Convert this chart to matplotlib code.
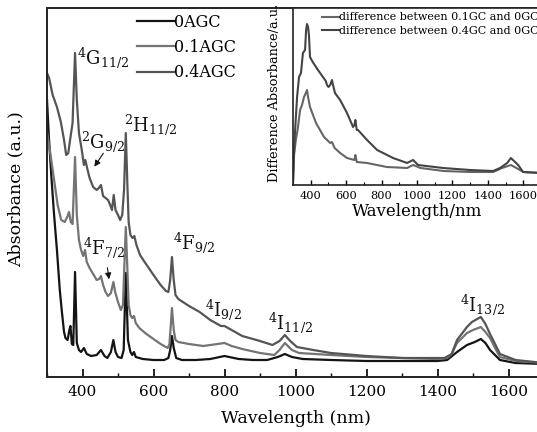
import numpy as np
import matplotlib
matplotlib.use("Agg")
import matplotlib.pyplot as plt
from matplotlib.ticker import MultipleLocator

plt.rcParams['font.family'] = ['DejaVu Serif']
plt.rcParams['mathtext.fontset'] = 'dejavuserif'

# ---------------- main data (a.u.) ----------------
wl_0 = [300, 305, 312, 320, 328, 336, 342, 348, 352, 358, 363, 366, 370, 374, 379, 384, 390, 396,
        404, 412, 424, 440, 452, 462, 470, 480, 487, 493, 500, 510, 516, 522, 528, 535, 540, 545,
        550, 570, 600, 630, 642, 647, 652, 657, 664, 680, 720, 760, 800, 840, 880, 920, 950, 970,
        990, 1020, 1100, 1200, 1300, 1400, 1427, 1455, 1483, 1505, 1522, 1535, 1548, 1576, 1620, 1700]
abs_0 = [277, 242, 202, 162, 127, 87, 65, 45, 39, 37, 47, 51, 33, 32, 105, 34, 27, 25,
         29, 23, 21, 22, 27, 21, 19, 25, 37, 25, 20, 19, 27, 104, 37, 25, 22, 25,
         20, 18, 17, 17, 19, 27, 41, 29, 19, 17, 17, 18, 21, 18, 17, 17, 20, 23,
         20, 18, 17, 16, 16, 16, 17, 25, 32, 35, 38, 34, 27, 17, 14, 13]

wl_01 = [300, 310, 320, 330, 340, 350, 358, 362, 367, 372, 379, 384, 390, 396, 402, 407, 412, 420,
         430, 440, 447, 452, 458, 465, 472, 480, 487, 492, 500, 508, 514, 518, 522, 526, 530, 535,
         540, 545, 550, 560, 580, 600, 620, 640, 645, 652, 657, 662, 670, 700, 740, 780, 800, 820,
         850, 900, 940, 955, 970, 990, 1010, 1100, 1200, 1300, 1400, 1427, 1440, 1455, 1483, 1500,
         1522, 1535, 1548, 1565, 1576, 1620, 1700]
abs_01 = [245, 222, 197, 172, 157, 155, 161, 165, 155, 153, 220, 162, 137, 127, 121, 127, 115, 109,
          103, 97, 98, 101, 92, 85, 81, 84, 95, 85, 75, 67, 72, 112, 150, 112, 72, 62,
          59, 61, 54, 49, 43, 38, 33, 29, 33, 69, 47, 37, 35, 33, 31, 33, 34, 31,
          28, 24, 22, 27, 34, 27, 24, 22, 20, 19, 18, 19, 23, 34, 44, 47,
          50, 45, 39, 27, 20, 16, 14]

wl_04 = [300, 306, 310, 316, 328, 339, 348, 354, 360, 365, 372, 379, 384, 390, 398, 404, 408, 413,
         420, 430, 440, 446, 452, 458, 465, 472, 478, 483, 488, 493, 500, 506, 512, 517, 522, 526,
         530, 535, 541, 546, 552, 562, 575, 600, 620, 635, 642, 647, 652, 657, 662, 670, 700, 730,
         760, 790, 800, 820, 850, 900, 935, 955, 970, 985, 1004, 1050, 1100, 1200, 1300, 1420, 1440,
         1455, 1483, 1497, 1522, 1535, 1548, 1565, 1576, 1620, 1700]
abs_04 = [304, 299, 292, 282, 270, 255, 237, 222, 224, 237, 254, 324, 277, 244, 227, 212, 217, 209,
          199, 190, 187, 189, 192, 181, 179, 177, 172, 167, 182, 167, 162, 157, 162, 187, 244, 197,
          155, 142, 139, 141, 132, 122, 115, 102, 92, 86, 85, 97, 120, 97, 82, 78, 71, 65,
          57, 51, 51, 47, 41, 36, 32, 36, 42, 36, 30, 27, 24, 21, 19, 19, 23,
          37, 50, 55, 60, 53, 43, 31, 23, 17, 14]

series_labels = ['0AGC', '0.1AGC', '0.4AGC']
series_colors = ['#141414', '#747474', '#555555']

# ---------------- inset data ----------------
wl_d04 = [300, 305, 311, 323, 334, 345, 356, 368, 374, 379, 385, 390, 396, 405, 415, 441, 469, 485,
          492, 500, 510, 520, 526, 537, 566, 605, 639, 647, 652, 660, 667, 718, 775, 865, 944, 978,
          1006, 1147, 1300, 1430, 1469, 1509, 1530, 1571, 1599, 1700]
diff_04 = [2, 30, 52, 88, 108, 112, 132, 135, 155, 161, 158, 150, 128, 125, 122, 115, 108, 104,
           100, 98, 100, 105, 100, 92, 85, 72, 58, 60, 65, 55, 55, 45, 35, 27, 22, 25,
           20, 17, 15, 14, 17, 22, 27, 20, 13, 12]
wl_d01 = [300, 306, 316, 326, 340, 351, 362, 375, 379, 385, 396, 430, 475, 510, 520, 535, 566, 605,
          647, 652, 660, 718, 830, 944, 978, 1020, 1150, 1300, 1430, 1480, 1530, 1571, 1600, 1700]
diff_01 = [2, 30, 45, 55, 75, 80, 88, 93, 95, 88, 78, 62, 48, 42, 43, 37, 32, 27,
           25, 30, 23, 22, 18, 17, 20, 17, 14, 13, 13, 17, 20, 16, 13, 12]
inset_labels = ['difference between 0.1GC and 0GC', 'difference between 0.4GC and 0GC']
inset_colors = ['#666666', '#444444']

# ---------------- figure ----------------
W, H = 537, 432
fig = plt.figure(figsize=(W / 100, H / 100), dpi=100)

def px_axes(l, t, r, b):
    return [l / W, 1 - b / H, (r - l) / W, (b - t) / H]

ax = fig.add_axes(px_axes(47, 8, 544, 377))
handles = []
for wl, ab, lab, col in zip([wl_0, wl_01, wl_04], [abs_0, abs_01, abs_04], series_labels, series_colors):
    h, = ax.plot(wl, ab, color=col, lw=1.6, label=lab)
    handles.append(h)

ax.set_xlim(300, 1700)
ax.set_ylim(0, 369)
ax.set_yticks([])
ax.xaxis.set_major_locator(MultipleLocator(200))
ax.xaxis.set_minor_locator(MultipleLocator(100))
ax.tick_params(axis='x', which='major', direction='in', length=5.5, width=1.2, labelsize=11, pad=6)
ax.tick_params(axis='x', which='minor', direction='in', length=2.8, width=1.0)
ax.set_xticks([400, 600, 800, 1000, 1200, 1400, 1600])
for s in ax.spines.values():
    s.set_linewidth(1.4)
    s.set_color('#222222')
ax.set_xlabel('Wavelength (nm)', fontsize=12.5, labelpad=8)
ax.set_ylabel('Absorbance (a.u.)', fontsize=12.5)
ax.yaxis.set_label_coords(-0.046, 0.51)

leg = ax.legend(handles=handles, loc='upper left', bbox_to_anchor=(0.181, 0.985), frameon=False,
                fontsize=11.5, handlelength=2.3, handletextpad=0.0, labelspacing=0.52,
                borderpad=0, borderaxespad=0)

ann = dict(fontsize=13, ha='left', va='center', color='#111111')
ax.text(384, 319, r'$^{4}\mathrm{G}_{11/2}$', **ann)
ax.text(517, 252, r'$^{2}\mathrm{H}_{11/2}$', **ann)
ax.text(396, 235, r'$^{2}\mathrm{G}_{9/2}$', **ann)
ax.text(401, 129, r'$^{4}\mathrm{F}_{7/2}$', **ann)
ax.text(655, 134, r'$^{4}\mathrm{F}_{9/2}$', **ann)
ax.text(745, 67, r'$^{4}\mathrm{I}_{9/2}$', **ann)
ax.text(922, 54, r'$^{4}\mathrm{I}_{11/2}$', **ann)
ax.text(1463, 72, r'$^{4}\mathrm{I}_{13/2}$', **ann)
ax.annotate('', xy=(429, 208), xytext=(463, 226),
            arrowprops=dict(arrowstyle='-|>', color='#111111', lw=0.8, mutation_scale=9))
ax.annotate('', xy=(476, 95), xytext=(469, 112),
            arrowprops=dict(arrowstyle='-|>', color='#111111', lw=0.8, mutation_scale=9))

# ---------------- inset ----------------
ins = fig.add_axes(px_axes(293, 8, 541, 185))
ih = []
for wl, d, lab, col in zip([wl_d01, wl_d04], [diff_01, diff_04], inset_labels, inset_colors):
    h, = ins.plot(wl, d, color=col, lw=1.5, label=lab)
    ih.append(h)
ins.set_xlim(300, 1700)
ins.set_ylim(0, 177)
ins.set_yticks([])
ins.set_xticks([400, 600, 800, 1000, 1200, 1400, 1600])
ins.xaxis.set_minor_locator(MultipleLocator(100))
ins.tick_params(axis='x', which='major', direction='in', length=3.5, width=1.0, labelsize=8.2, pad=4)
ins.tick_params(axis='x', which='minor', direction='in', length=2, width=0.8)
for s in ins.spines.values():
    s.set_linewidth(1.2)
    s.set_color('#222222')
ins.set_xlabel('Wavelength/nm', fontsize=12, labelpad=2)
ins.set_ylabel('Difference Absorbance/a.u.', fontsize=9.3)
ins.yaxis.set_label_coords(-0.048, 0.52)
ins.legend(handles=ih, loc='upper left', bbox_to_anchor=(0.117, 0.975), frameon=False,
           fontsize=8, handlelength=1.5, handletextpad=0.0, labelspacing=0.3,
           borderpad=0, borderaxespad=0)

fig.savefig('out.png', dpi=100)
